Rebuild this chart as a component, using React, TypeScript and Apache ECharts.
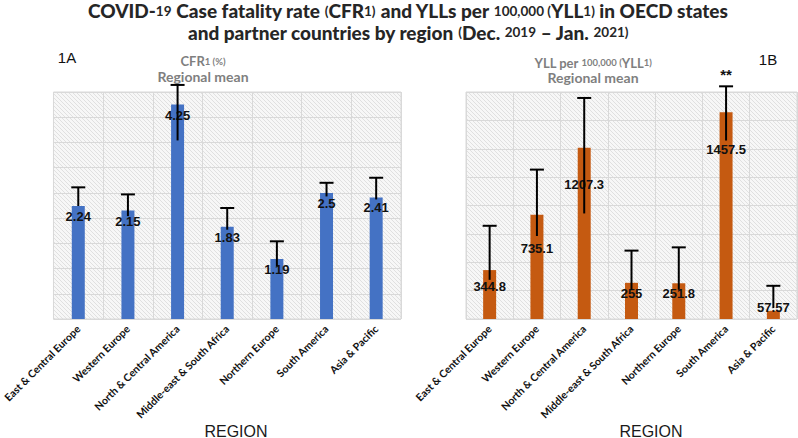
import React, { useEffect, useRef } from "react";
import * as echarts from "echarts";

const categories = [
  "East & Central Europe",
  "Western Europe",
  "North & Central America",
  "Middle-east & South Africa",
  "Northern Europe",
  "South America",
  "Asia & Pacific",
];

const cfrMean = [2.24, 2.15, 4.25, 1.83, 1.19, 2.5, 2.41];
const cfrHigh = [2.61, 2.47, 4.64, 2.2, 1.54, 2.7, 2.8];
const cfrLow = [2.24, 2.04, 3.54, 1.77, 1.05, 2.43, 2.37];

const yllMean = [344.8, 735.1, 1207.3, 255, 251.8, 1457.5, 57.57];
const yllHigh = [657, 1053, 1558, 482, 505, 1640, 234];
const yllLow = [276, 585, 744, 206, 206, 1258, 77];
const yllSignificance = ["", "", "", "", "", "**", ""];

const cfrLabelShift = [0, 0, 0, 0, 0, 0, 0];
const yllLabelShift = [6, 23, 26, 0, 0, 27, -14];

const FONT_LABEL = "'Liberation Sans', Arial, sans-serif";
const FONT_TITLE = "Lato, sans-serif";

function makePattern() {
  const c = document.createElement("canvas");
  c.width = 4;
  c.height = 4;
  const ctx = c.getContext("2d");
  if (ctx) {
    ctx.fillStyle = "#f7f7f7";
    ctx.fillRect(0, 0, 4, 4);
    ctx.strokeStyle = "#e0e0e0";
    ctx.lineWidth = 1;
    ctx.beginPath();
    ctx.moveTo(0, 0);
    ctx.lineTo(4, 4);
    ctx.stroke();
  }
  return { image: c, repeat: "repeat" } as any;
}

function errorSeries(gridIdx: number, high: number[], low: number[], sig: string[]) {
  return {
    type: "custom",
    xAxisIndex: gridIdx,
    yAxisIndex: gridIdx,
    clip: false,
    z: 5,
    data: high.map((h, i) => [i, h, low[i]]),
    encode: { x: 0, y: [1, 2] },
    renderItem: (params: any, api: any) => {
      const hi = api.coord([api.value(0), api.value(1)]);
      const lo = api.coord([api.value(0), api.value(2)]);
      const half = 7;
      const children: any[] = [
        {
          type: "line",
          shape: { x1: hi[0], y1: hi[1], x2: lo[0], y2: lo[1] },
          style: { stroke: "#000", lineWidth: 2 },
        },
        {
          type: "line",
          shape: { x1: hi[0] - half, y1: hi[1], x2: hi[0] + half, y2: hi[1] },
          style: { stroke: "#000", lineWidth: 2 },
        },
      ];
      const s = sig[params.dataIndex];
      if (s) {
        children.push({
          type: "text",
          x: hi[0],
          y: hi[1] - 4,
          style: {
            text: s,
            fill: "#111",
            font: "bold 15px " + FONT_LABEL,
            textAlign: "center",
            textVerticalAlign: "bottom",
          },
        });
      }
      return { type: "group", children };
    },
  };
}

function barSeries(gridIdx: number, values: number[], shift: number[], color: string) {
  return {
    type: "bar",
    xAxisIndex: gridIdx,
    yAxisIndex: gridIdx,
    barWidth: 13,
    z: 2,
    itemStyle: { color },
    label: {
      show: true,
      position: "insideTop",
      distance: 4,
      color: "#111",
      fontFamily: FONT_LABEL,
      fontWeight: "bold",
      fontSize: 13,
    },
    data: values.map((v, i) => ({ value: v, label: { offset: [0, shift[i]] } })),
  };
}

function subText(x: number, y: number, text: string, size: number) {
  return {
    type: "text",
    x,
    y,
    style: {
      text,
      align: "center",
      verticalAlign: "middle",
      rich: {
        b: { fontFamily: FONT_TITLE, fontWeight: "bold", fontSize: size, fill: "#7f7f7f" },
        s: { fontFamily: FONT_TITLE, fontWeight: "bold", fontSize: 9.5, fill: "#7f7f7f" },
      },
    } as any,
  };
}

function titleLine(y: number, text: string) {
  return {
    type: "text",
    x: 408,
    y,
    style: {
      text,
      align: "center",
      verticalAlign: "middle",
      rich: {
        b: { fontFamily: FONT_TITLE, fontWeight: 900, fontSize: 19, fill: "#262626" },
        s: { fontFamily: FONT_TITLE, fontWeight: "bold", fontSize: 13.5, fill: "#262626" },
      },
    } as any,
  };
}

export default function App() {
  const ref = useRef<HTMLDivElement>(null);
  useEffect(() => {
    if (!ref.current) return;
    const chart = echarts.init(ref.current, null, { renderer: "svg" });
    const pattern = makePattern();
    const xAxisBase = (gridIndex: number) => ({
      type: "category",
      gridIndex,
      data: categories,
      axisTick: { show: false },
      axisLine: { show: false },
      axisLabel: {
        rotate: 45,
        interval: 0,
        margin: 8,
        color: "#111",
        fontFamily: "Lato, sans-serif",
        fontWeight: "bold",
        fontSize: 10.5,
      },
      splitLine: { show: true, lineStyle: { color: "#d9d9d9", width: 1 } },
    });
    const yAxisBase = (gridIndex: number, max: number, interval: number) => ({
      type: "value",
      gridIndex,
      min: 0,
      max,
      interval,
      axisLabel: { show: false },
      axisTick: { show: false },
      axisLine: { show: false },
      splitLine: { show: true, lineStyle: { color: "#d9d9d9", width: 1 } },
    });
    chart.setOption({
      animation: false,
      grid: [
        {
          left: 53,
          top: 92,
          width: 348,
          height: 227,
          show: true,
          backgroundColor: pattern,
          borderColor: "#d9d9d9",
          borderWidth: 1,
        },
        {
          left: 466,
          top: 92,
          width: 331,
          height: 227,
          show: true,
          backgroundColor: pattern,
          borderColor: "#d9d9d9",
          borderWidth: 1,
        },
      ],
      xAxis: [xAxisBase(0), xAxisBase(1)],
      yAxis: [yAxisBase(0, 4.5, 0.5), yAxisBase(1, 1600, 200)],
      series: [
        barSeries(0, cfrMean, cfrLabelShift, "#4472C4"),
        errorSeries(0, cfrHigh, cfrLow, ["", "", "", "", "", "", ""]),
        barSeries(1, yllMean, yllLabelShift, "#C55A11"),
        errorSeries(1, yllHigh, yllLow, yllSignificance),
      ],
      graphic: [
        titleLine(
          10.5,
          "{b|COVID-}{s|19}{b| Case fatality rate }{s|(}{b|CFR}{s|1)}{b| and YLLs per }{s|100,000 (}{b|YLL}{s|1)}{b| in OECD states}"
        ),
        titleLine(
          32,
          "{b|and partner countries by region }{s|(}{b|Dec. }{s|2019}{b| – Jan. }{s|2021)}"
        ),
        {
          type: "text",
          x: 67,
          y: 57,
          style: {
            text: "1A",
            font: "15px " + FONT_LABEL,
            fill: "#111",
            align: "center",
            verticalAlign: "middle",
          } as any,
        },
        {
          type: "text",
          x: 768,
          y: 59,
          style: {
            text: "1B",
            font: "15px " + FONT_LABEL,
            fill: "#111",
            align: "center",
            verticalAlign: "middle",
          } as any,
        },
        subText(203, 61, "{b|CFR}{s|1 (%)}", 13),
        subText(203, 76, "{b|Regional mean}", 14),
        subText(593, 62.5, "{b|YLL per }{s|100,000 (}{b|YLL}{s|1)}", 13),
        subText(593, 77.5, "{b|Regional mean}", 14),
        {
          type: "text",
          x: 236,
          y: 431,
          style: {
            text: "REGION",
            font: "16px " + FONT_LABEL,
            fill: "#1a1a1a",
            align: "center",
            verticalAlign: "middle",
          } as any,
        },
        {
          type: "text",
          x: 651,
          y: 431,
          style: {
            text: "REGION",
            font: "16px " + FONT_LABEL,
            fill: "#1a1a1a",
            align: "center",
            verticalAlign: "middle",
          } as any,
        },
      ],
    });
    return () => chart.dispose();
  }, []);
  return (
    <div
      ref={ref}
      style={{ position: "absolute", left: 0, top: 0, width: 798, height: 438 }}
    />
  );
}
